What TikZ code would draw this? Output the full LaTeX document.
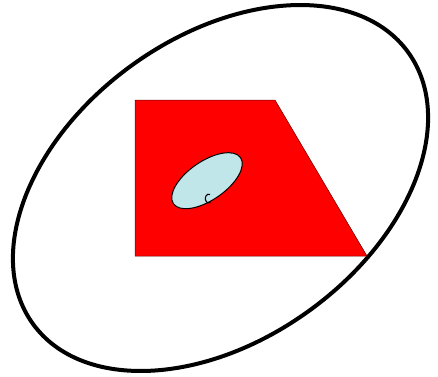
\documentclass[tikz,border=0pt]{standalone}
\definecolor{trapred}{RGB}{255,0,0}
\definecolor{lightblue}{RGB}{192,230,233}
\tikzset{
  outer/.style={draw=black, line width=4pt},
  trap/.style={fill=trapred, draw=black!60!red, line width=0.5pt},
  inner/.style={fill=lightblue, draw=black, line width=1pt},
  curl/.style={draw=black, line width=1.1pt}
}
\begin{document}
\begin{tikzpicture}[x=1pt,y=-1pt]
\useasboundingbox (0,0) rectangle (438,376);
\draw[outer] (220.5,188) ellipse[x radius=231.6, y radius=151.4, rotate=35.9];
\path[trap] (135,100) -- (275,100) -- (367,256) -- (135,256) -- cycle;
\draw[inner] (207,180.7) ellipse[x radius=40.7, y radius=19.3, rotate=34.5];
\coordinate (c0) at (210,194.5);
\coordinate (c1) at (210.5,202.5);
\draw[curl] (c0) .. controls (207,193) and (204.5,197) .. (205.5,200) .. controls (206.5,203) and (209,203.5) .. (c1);
\end{tikzpicture}
\end{document}
